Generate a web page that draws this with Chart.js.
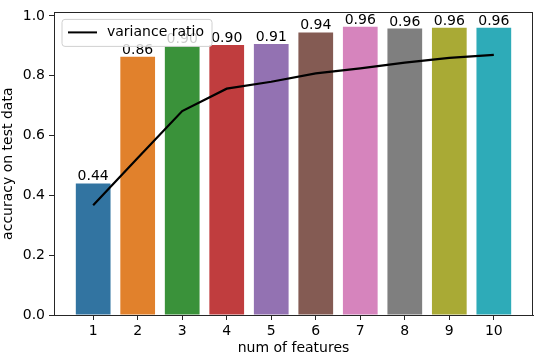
<!DOCTYPE html>
<html>
<head>
<meta charset="utf-8">
<script src="https://cdn.jsdelivr.net/npm/chart.js@4/dist/chart.umd.min.js"></script>
<style>
	html, body { margin: 0; padding: 0; background: #fff; }
	#chart { display: block; }
</style>
</head>
<body>
<canvas id="chart" width="536" height="358"></canvas>
<script>
// num of features
var features = [1, 2, 3, 4, 5, 6, 7, 8, 9, 10];
// accuracy on test data (bars)
var accuracy = [0.44, 0.864, 0.90, 0.903, 0.906, 0.945, 0.964, 0.958, 0.961, 0.961];
// cumulative variance ratio (line)
var varianceRatio = [0.367, 0.525, 0.682, 0.757, 0.780, 0.808, 0.825, 0.844, 0.860, 0.870];
var barColors = ['#3274a1', '#e1812c', '#3a923a', '#c03d3e', '#9372b2',
	'#845b53', '#d684bd', '#7f7f7f', '#a9aa35', '#2eabb8'];
var yTicks = [0, 0.2, 0.4, 0.6, 0.8, 1.0];

var font = 'DejaVu Sans';
var fontSize = 14;
var textColor = '#000';

// bar value labels on top of each bar
var barLabels = {
	id: 'barLabels',
	afterDatasetsDraw: function (chart) {
		var ctx = chart.ctx;
		var meta = chart.getDatasetMeta(0);
		ctx.save();
		ctx.font = fontSize + 'px "' + font + '"';
		ctx.fillStyle = textColor;
		ctx.textAlign = 'center';
		ctx.textBaseline = 'alphabetic';
		meta.data.forEach(function (bar, i) {
			ctx.fillText(accuracy[i].toFixed(2), bar.x, bar.y - 3);
		});
		ctx.restore();
	}
};

// frame + legend box inside the axes, matplotlib style
var frameAndLegend = {
	id: 'frameAndLegend',
	afterDraw: function (chart) {
		var ctx = chart.ctx, a = chart.chartArea;
		ctx.save();
		ctx.strokeStyle = '#262626';
		ctx.lineWidth = 1;
		ctx.strokeRect(Math.round(a.left) + 0.5, Math.round(a.top) + 0.5,
			Math.round(a.right - a.left) - 1, Math.round(a.bottom - a.top));

		var x = a.left + 8, y = a.top + 7, w = 150, h = 27, r = 3;
		ctx.beginPath();
		ctx.moveTo(x + r, y);
		ctx.arcTo(x + w, y, x + w, y + h, r);
		ctx.arcTo(x + w, y + h, x, y + h, r);
		ctx.arcTo(x, y + h, x, y, r);
		ctx.arcTo(x, y, x + w, y, r);
		ctx.closePath();
		ctx.fillStyle = 'rgba(255,255,255,0.8)';
		ctx.fill();
		ctx.strokeStyle = '#d0d0d0';
		ctx.stroke();

		ctx.beginPath();
		ctx.moveTo(x + 6, y + 13);
		ctx.lineTo(x + 35, y + 13);
		ctx.strokeStyle = '#000';
		ctx.lineWidth = 2;
		ctx.stroke();

		ctx.font = fontSize + 'px "' + font + '"';
		ctx.fillStyle = textColor;
		ctx.textBaseline = 'middle';
		ctx.fillText(chart.data.datasets[1].label, x + 45, y + 13);
		ctx.restore();
	}
};

new Chart(document.getElementById('chart'), {
	type: 'bar',
	data: {
		datasets: [{
			type: 'bar',
			label: 'accuracy',
			data: features.map(function (f, i) { return {x: f, y: accuracy[i]}; }),
			backgroundColor: barColors,
			borderWidth: 0,
			barPercentage: 0.78,
			categoryPercentage: 1.0,
			order: 2
		}, {
			type: 'line',
			label: 'variance ratio',
			data: features.map(function (f, i) { return {x: f, y: varianceRatio[i]}; }),
			borderColor: '#000',
			borderWidth: 2.2,
			pointRadius: 0,
			fill: false,
			tension: 0,
			order: 1
		}]
	},
	options: {
		responsive: false,
		animation: false,
		devicePixelRatio: 1,
		layout: {padding: {top: 4, right: 3, left: 0, bottom: 0}},
		plugins: {legend: {display: false}, tooltip: {enabled: false}},
		scales: {
			x: {
				type: 'linear',
				min: 0.12,
				max: 10.88,
				offset: false,
				afterBuildTicks: function (scale) {
					scale.ticks = features.map(function (v) { return {value: v}; });
				},
				afterFit: function (scale) { scale.height = 43; },
				grid: {display: true, offset: false, drawOnChartArea: false, drawTicks: true, tickLength: 5, color: '#262626'},
				border: {display: true, color: '#262626'},
				ticks: {color: textColor, font: {family: font, size: fontSize}, padding: 3, maxRotation: 0},
				title: {display: true, text: 'num of features', color: textColor,
					font: {family: font, size: fontSize}, padding: {top: 0, bottom: 1}}
			},
			y: {
				min: 0,
				max: 1.012,
				afterBuildTicks: function (scale) {
					scale.ticks = yTicks.map(function (v) { return {value: v}; });
				},
				afterFit: function (scale) { scale.width = 54; },
				grid: {display: true, drawOnChartArea: false, drawTicks: true, tickLength: 5, color: '#262626'},
				border: {display: true, color: '#262626'},
				ticks: {color: textColor, font: {family: font, size: fontSize}, padding: 4,
					callback: function (v) { return Number(v).toFixed(1); }},
				title: {display: true, text: 'accuracy on test data', color: textColor,
					font: {family: font, size: fontSize}, padding: {top: 0, bottom: 0}}
			}
		}
	},
	plugins: [barLabels, frameAndLegend]
});
</script>
</body>
</html>
